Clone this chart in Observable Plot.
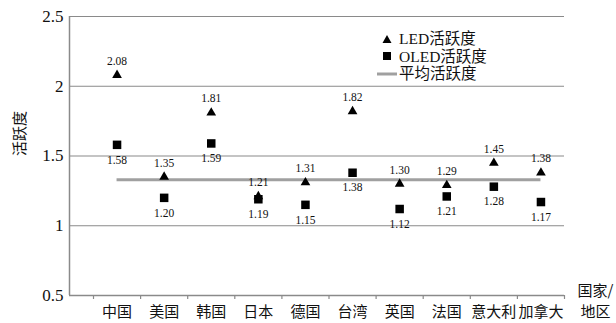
<!DOCTYPE html>
<html>
<head>
<meta charset="utf-8">
<script src="https://cdn.jsdelivr.net/npm/d3@7"></script>
<script src="https://cdn.jsdelivr.net/npm/@observablehq/plot@0.6"></script>
<style>
  html, body { margin: 0; padding: 0; background: #fff; }
  #chart { position: relative; width: 616px; height: 323px; }
  #legend { position: absolute; left: 377px; top: 30px; font-size: 15.5px; color: #111; line-height: 17.5px; }
  #legend .row { display: flex; align-items: center; height: 17.5px; }
  #legend svg { width: 20px; height: 12px; margin-right: 2px; }
  #legend span { font-family: "Liberation Serif", "Noto Sans CJK SC", serif; }
</style>
</head>
<body>
<div id="chart"></div>
<script>
// Activity index per country / region
const countries = ["中国", "美国", "韩国", "日本", "德国", "台湾", "英国", "法国", "意大利", "加拿大"];
const led = [2.08, 1.35, 1.81, 1.21, 1.31, 1.82, 1.30, 1.29, 1.45, 1.38];
const oled = [1.58, 1.20, 1.59, 1.19, 1.15, 1.38, 1.12, 1.21, 1.28, 1.17];
const average = 1.33;
const yTicks = [0.5, 1, 1.5, 2, 2.5];
const gridValues = [1, 1.5, 2, 2.5];

// Each category sits in its own slot [i, i+1] on a linear x scale
const rows = countries.map((c, i) => ({country: c, pos: i + 0.5, led: led[i], oled: oled[i]}));
const slotEdges = d3.range(countries.length + 1);
const axisLeft = -24 / 47.1; // the value axis sits a little left of the first slot

const serif = "Liberation Serif, Times New Roman, serif";
const cjk = "Noto Sans CJK SC, sans-serif";

const chart = Plot.plot({
  width: 616,
  height: 323,
  marginLeft: 69,
  marginRight: 52,
  marginTop: 16,
  marginBottom: 28,
  style: {background: "#fff", color: "#111", fontFamily: serif},
  x: {domain: [0, countries.length], range: [93, 564], axis: null},
  y: {domain: [0.5, 2.5], axis: null},
  marks: [
    Plot.ruleY(gridValues, {stroke: "#8a8a8a", strokeWidth: 1.2}),
    Plot.ruleY([0.5], {x1: axisLeft, x2: countries.length, stroke: "#8a8a8a", strokeWidth: 1.5}),
    Plot.ruleX([axisLeft], {y1: 0.5, y2: 2.5, stroke: "#8a8a8a", strokeWidth: 1.5}),
    // category separators below the axis
    Plot.ruleX(slotEdges, {y1: 0.5, y2: 0.5, insetBottom: -4, stroke: "#8a8a8a", strokeWidth: 1.2}),
    Plot.axisY(yTicks, {
      tickSize: 0, tickPadding: 6, fontSize: 17, fontFamily: serif,
      tickFormat: d => String(d), label: null
    }),
    Plot.text(["活跃度"], {
      frameAnchor: "left", dx: -49, rotate: -90, fontSize: 15, fontFamily: cjk, fill: "#111"
    }),
    Plot.text(rows, {x: "pos", text: "country", frameAnchor: "bottom", lineAnchor: "middle", dy: 17, fontSize: 15, fontFamily: cjk, fill: "#111"}),
    Plot.text(["国家/"], {frameAnchor: "bottom-right", lineAnchor: "middle", textAnchor: "start", dx: 13, dy: -4, fontSize: 15, fontFamily: cjk, fill: "#111"}),
    Plot.text(["地区"], {frameAnchor: "bottom-right", lineAnchor: "middle", textAnchor: "start", dx: 16, dy: 17, fontSize: 15, fontFamily: cjk, fill: "#111"}),
    // average line from first to last category
    Plot.ruleY([average], {x1: rows[0].pos, x2: rows[rows.length - 1].pos, stroke: "#a0a0a0", strokeWidth: 3}),
    Plot.dot(rows, {x: "pos", y: "oled", symbol: "square", r: 4.8, fill: "#000", stroke: "none"}),
    Plot.dot(rows, {x: "pos", y: "led", symbol: "triangle", r: 3.6, fill: "#000", stroke: "none"}),
    Plot.text(rows, {x: "pos", y: "led", text: d => d.led.toFixed(2), dy: -14, fontSize: 11.5, fontFamily: serif, fill: "#111"}),
    Plot.text(rows, {x: "pos", y: "oled", text: d => d.oled.toFixed(2), dy: 15, fontSize: 11.5, fontFamily: serif, fill: "#111"})
  ]
});

const host = document.getElementById("chart");
host.appendChild(chart);

const legend = document.createElement("div");
legend.id = "legend";
legend.innerHTML = `
  <div class="row"><svg viewBox="0 0 20 12"><path d="M10 2 L14.5 10 L5.5 10 Z" fill="#000"/></svg><span>LED活跃度</span></div>
  <div class="row"><svg viewBox="0 0 20 12"><rect x="6" y="2" width="8" height="8" fill="#000"/></svg><span>OLED活跃度</span></div>
  <div class="row"><svg viewBox="0 0 20 12"><line x1="0" y1="6" x2="20" y2="6" stroke="#a0a0a0" stroke-width="3"/></svg><span>平均活跃度</span></div>`;
host.appendChild(legend);
</script>
</body>
</html>
